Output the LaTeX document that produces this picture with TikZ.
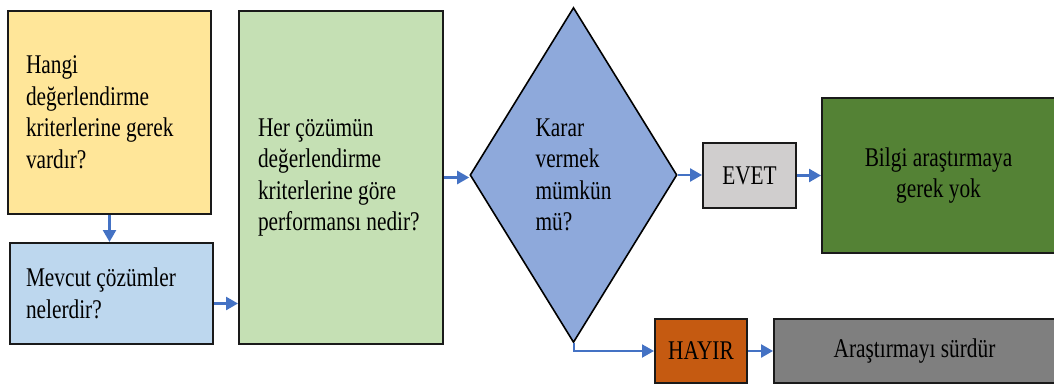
\documentclass[tikz,border=0pt]{standalone}
\usepackage{fontspec}
\setmainfont{Liberation Serif}[FakeStretch=0.79]
\usetikzlibrary{shapes.geometric,arrows.meta}
\definecolor{cYellow}{HTML}{FFE699}
\definecolor{cLightBlue}{HTML}{BDD7EE}
\definecolor{cLightGreen}{HTML}{C5E0B4}
\definecolor{cDiamond}{HTML}{8EA9DB}
\definecolor{cGrey}{HTML}{D0CECE}
\definecolor{cDarkGreen}{HTML}{548235}
\definecolor{cOrange}{HTML}{C55A11}
\definecolor{cDarkGrey}{HTML}{7F7F7F}
\definecolor{cArrow}{HTML}{4472C4}
\definecolor{cBorder}{HTML}{1A1A1A}
\newcommand\flowfont{\fontsize{27}{31.5}\selectfont}
\tikzset{
  txt/.style={font=\flowfont},
  box/.style={txt, draw=cBorder, line width=2pt, rectangle, inner ysep=0pt},
  leftbox/.style={box, align=flush left},
  midbox/.style={box, align=center, inner xsep=0pt},
  decision/.style={txt, draw=black, line width=1.6pt, diamond, inner sep=0pt,
    align=left, fill=cDiamond},
  flow/.style={draw=cArrow, line width=2.5pt,
    -{Triangle[length=12pt,width=13pt]}},
}
\begin{document}
\begin{tikzpicture}[x=1pt,y=-1pt]
\useasboundingbox (0,0) rectangle (1054,385);

% question boxes on the left
\node[leftbox, fill=cYellow, inner xsep=18pt, text width=167pt,
      minimum width=203pt, minimum height=203pt] (criteria) at (109.5,112.5)
  {Hangi\\değerlendirme\\kriterlerine gerek\\vardır?};
\node[leftbox, fill=cLightBlue, inner xsep=16pt, text width=171pt,
      minimum width=203pt, minimum height=101pt] (solutions) at (111.5,293.5)
  {Mevcut çözümler\\nelerdir?};
\node[leftbox, fill=cLightGreen, inner xsep=19pt, text width=166pt,
      minimum width=204pt, minimum height=333pt] (performance) at (341,177.5)
  {Her çözümün\\değerlendirme\\kriterlerine göre\\performansı nedir?};

% decision
\node[decision, minimum width=207pt, minimum height=335pt] (decide) at (573.5,175)
  {Karar\\vermek\\mümkün\\mü?};

% outcomes
\node[midbox, fill=cGrey, minimum width=93pt, minimum height=65pt] (yes) at (749.5,175.5) {EVET};
\node[midbox, fill=cDarkGreen, minimum width=233pt, minimum height=155pt] (noneed) at (938.5,175.5)
  {Bilgi araştırmaya\\gerek yok};
\node[midbox, fill=cOrange, minimum width=92pt, minimum height=64pt] (no) at (701,351) {HAYIR};
\node[midbox, fill=cDarkGrey, minimum width=281pt, minimum height=64pt] (continue) at (914.5,351)
  {Araştırmayı sürdür};

% connectors
\draw[flow] (criteria.south) -- (criteria.south |- solutions.north);
\draw[flow] ([yshift=-10pt]solutions.east) -- ([yshift=-10pt]solutions.east -| performance.west);
\draw[flow] (performance.east) -- (performance.east -| decide.west);
\draw[flow] (decide.east) -- (decide.east -| yes.west);
\draw[flow] (yes.east) -- (yes.east -| noneed.west);
\draw[flow, line width=2pt] (decide.south) |- (no.west);
\draw[flow] (no.east) -- (no.east -| continue.west);
\end{tikzpicture}
\end{document}
